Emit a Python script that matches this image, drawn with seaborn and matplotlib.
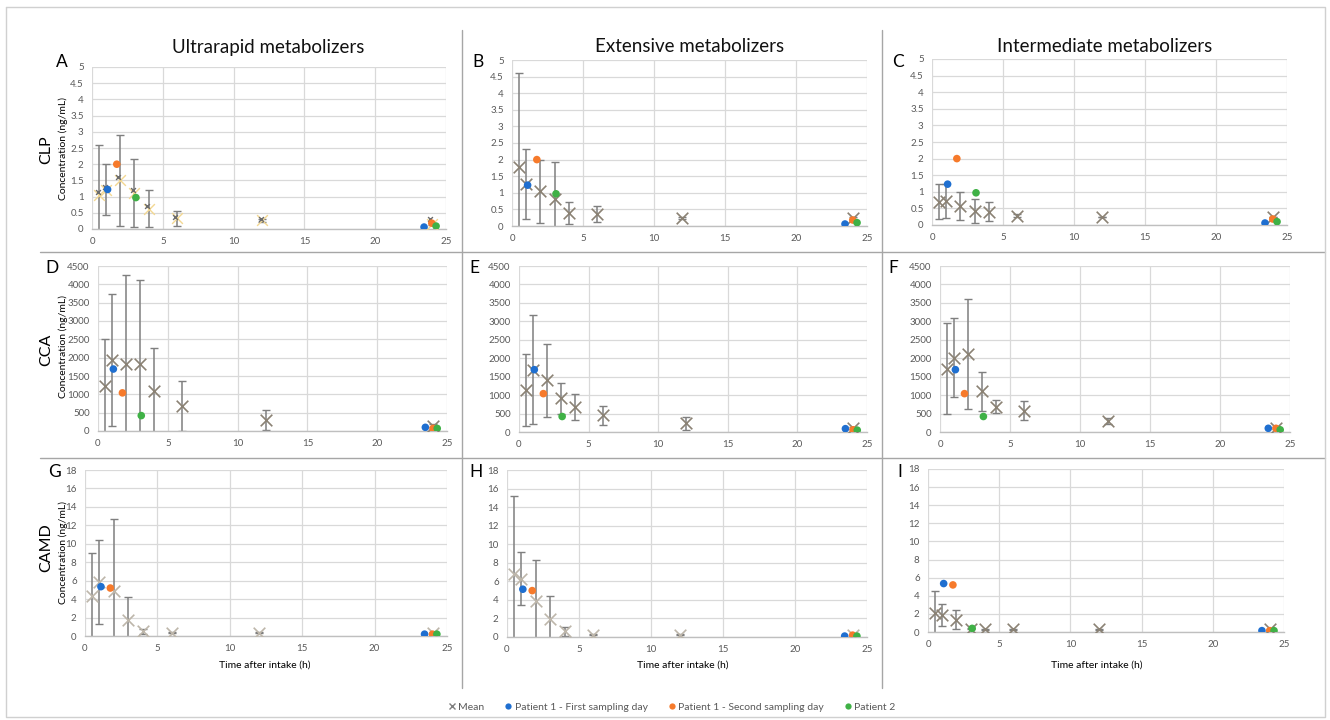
import numpy as np
import pandas as pd
import matplotlib
matplotlib.use("Agg")
import matplotlib.pyplot as plt
import seaborn as sns
from matplotlib.lines import Line2D
from matplotlib.ticker import FuncFormatter, MultipleLocator

sns.set_theme(style="white")
plt.rcParams['font.family'] = ['Lato', 'DejaVu Sans']

# ---------------- data ----------------
times = [0.5, 1, 2, 3, 4, 6, 12, 24]
p1d1_t = [1.1, 23.45]
p1d2_t = [1.75, 24.0]
p2_t = [3.1, 24.3]

columns = ["Ultrarapid metabolizers", "Extensive metabolizers", "Intermediate metabolizers"]
rows = ["CLP", "CCA", "CAMD"]
letters = ["A", "B", "C", "D", "E", "F", "G", "H", "I"]
xlabel = "Time after intake (h)"
ylabel = "Concentration (ng/mL)"
legend_labels = ["Mean", "Patient 1 - First sampling day", "Patient 1 - Second sampling day", "Patient 2"]

# CLP
clp_ur_mean = [1.05, 1.21, 1.5, 1.1, 0.63, 0.33, 0.27, 0.15]
clp_ur_sd = [1.55, 0.79, 1.4, 1.05, 0.57, 0.24, 0.05, 0.04]
clp_ur_alt_t = [0.45, 0.95, 1.85, 2.9, 3.9, 5.85, 11.9, 23.85]
clp_ur_alt = [1.15, 1.3, 1.6, 1.2, 0.72, 0.38, 0.3, 0.3]
clp_ur_p1d1 = [1.22, 0.06]
clp_ur_p1d2 = [2.0, 0.18]
clp_ur_p2 = [0.97, 0.09]

clp_em_mean = [1.78, 1.27, 1.05, 0.8, 0.4, 0.36, 0.25, 0.25]
clp_em_sd = [2.82, 1.05, 0.95, 1.13, 0.33, 0.24, 0.03, 0.03]
clp_em_p1d1 = [1.23, 0.06]
clp_em_p1d2 = [2.0, 0.18]
clp_em_p2 = [0.97, 0.1]

clp_im_mean = [0.7, 0.72, 0.57, 0.42, 0.4, 0.28, 0.24, 0.25]
clp_im_sd = [0.53, 0.5, 0.42, 0.35, 0.29, 0.04, 0.0, 0.0]
clp_im_p1d1 = [1.23, 0.06]
clp_im_p1d2 = [2.0, 0.18]
clp_im_p2 = [0.97, 0.1]

# CCA
cca_ur_mean = [1230, 1940, 1820, 1820, 1100, 690, 300, 150]
cca_ur_sd = [1270, 1790, 2430, 2300, 1160, 680, 280, 30]
cca_ur_p1d1 = [1690, 100]
cca_ur_p1d2 = [1040, 70]
cca_ur_p2 = [420, 70]

cca_em_mean = [1140, 1690, 1400, 910, 680, 455, 240, 100]
cca_em_sd = [980, 1470, 985, 430, 355, 255, 180, 30]
cca_em_p1d1 = [1690, 90]
cca_em_p1d2 = [1040, 60]
cca_em_p2 = [420, 50]

cca_im_mean = [1720, 2010, 2110, 1100, 685, 575, 300, 100]
cca_im_sd = [1240, 1070, 1500, 520, 175, 255, 80, 30]
cca_im_p1d1 = [1690, 100]
cca_im_p1d2 = [1040, 100]
cca_im_p2 = [420, 60]

# CAMD
camd_ur_mean = [4.3, 5.85, 4.9, 1.7, 0.5, 0.35, 0.35, 0.35]
camd_ur_sd = [4.75, 4.6, 7.8, 2.5, 0.3, 0.05, 0.05, 0.05]
camd_ur_p1d1 = [5.35, 0.2]
camd_ur_p1d2 = [5.2, 0.2]
camd_ur_p2 = [np.nan, 0.2]

camd_em_mean = [6.75, 6.3, 3.9, 1.9, 0.6, 0.25, 0.25, 0.2]
camd_em_sd = [8.45, 2.9, 4.4, 2.5, 0.45, 0.05, 0.05, 0.05]
camd_em_p1d1 = [5.15, 0.1]
camd_em_p1d2 = [5.0, 0.2]
camd_em_p2 = [np.nan, 0.1]

camd_im_mean = [2.05, 1.85, 1.375, 0.35, 0.3, 0.3, 0.3, 0.3]
camd_im_sd = [2.45, 1.2, 1.0, 0.05, 0.05, 0.05, 0.05, 0.05]
camd_im_p1d1 = [5.35, 0.15]
camd_im_p1d2 = [5.2, 0.15]
camd_im_p2 = [0.4, 0.15]

# ---------------- styling ----------------
C_BLUE = "#1f6fd0"
C_ORANGE = "#f67a2b"
C_GREEN = "#3fb146"
C_MEAN = "#8b8274"
C_MEAN_LIGHT = "#bdb6aa"
C_GOLD = "#f3d892"
C_ERR = "#7f7f7f"
C_GRID = "#d9d9d9"
C_TICK = "#595959"

W, H = 1330, 720
fig = plt.figure(figsize=(W / 100, H / 100), dpi=100)


def fx(x):
    return x / W


def fy(y):
    return 1 - y / H


# panel boxes in pixels: left, top, right, bottom
boxes = [
    (92, 67, 446, 229), (512, 60, 867, 226), (932, 59, 1287, 225),
    (98, 266, 447, 431), (519, 266, 867, 432), (940, 266, 1290, 432),
    (85, 470, 447, 636), (507, 470, 867, 637), (928, 469, 1284, 632),
]

panels = [
    (clp_ur_mean, clp_ur_sd, clp_ur_p1d1, clp_ur_p1d2, clp_ur_p2),
    (clp_em_mean, clp_em_sd, clp_em_p1d1, clp_em_p1d2, clp_em_p2),
    (clp_im_mean, clp_im_sd, clp_im_p1d1, clp_im_p1d2, clp_im_p2),
    (cca_ur_mean, cca_ur_sd, cca_ur_p1d1, cca_ur_p1d2, cca_ur_p2),
    (cca_em_mean, cca_em_sd, cca_em_p1d1, cca_em_p1d2, cca_em_p2),
    (cca_im_mean, cca_im_sd, cca_im_p1d1, cca_im_p1d2, cca_im_p2),
    (camd_ur_mean, camd_ur_sd, camd_ur_p1d1, camd_ur_p1d2, camd_ur_p2),
    (camd_em_mean, camd_em_sd, camd_em_p1d1, camd_em_p1d2, camd_em_p2),
    (camd_im_mean, camd_im_sd, camd_im_p1d1, camd_im_p1d2, camd_im_p2),
]

ylims = [(5, 0.5), (4500, 500), (18, 2)]
fmt = FuncFormatter(lambda v, p: f"{v:g}")

for i, (box, data) in enumerate(zip(boxes, panels)):
    l, t, r, b = box
    ax = fig.add_axes([fx(l), fy(b), fx(r) - fx(l), (b - t) / H])
    mean, sd, d1, d2, d3 = data
    row = i // 3
    ymax, ystep = ylims[row]

    ax.errorbar(times, mean, yerr=sd, fmt="none", ecolor=C_ERR, elinewidth=1.1,
                capsize=3, capthick=1.0, zorder=2)

    if i == 0:
        sns.scatterplot(x=times, y=mean, ax=ax, marker="x", s=60, color=C_GOLD,
                        linewidth=1.0, zorder=3, legend=False)
        sns.scatterplot(x=clp_ur_alt_t, y=clp_ur_alt, ax=ax, marker="x", s=12,
                        color="#6b6b6b", linewidth=1.0, zorder=4, legend=False)
    else:
        mc = C_MEAN_LIGHT if i in (6, 7) else C_MEAN
        sns.scatterplot(x=times, y=mean, ax=ax, marker="x", s=70, color=mc,
                        linewidth=1.2, zorder=3, legend=False)

    for tx, vals, col in [(p1d1_t, d1, C_BLUE), (p1d2_t, d2, C_ORANGE), (p2_t, d3, C_GREEN)]:
        dfp = pd.DataFrame({"t": tx, "v": vals}).dropna()
        sns.scatterplot(data=dfp, x="t", y="v", ax=ax, color=col, s=30,
                        edgecolor="none", zorder=5, legend=False)

    ax.set_xlim(0, 25)
    ax.set_ylim(0, ymax)
    ax.xaxis.set_major_locator(MultipleLocator(5))
    ax.yaxis.set_major_locator(MultipleLocator(ystep))
    ax.xaxis.set_major_formatter(fmt)
    ax.yaxis.set_major_formatter(fmt)
    ax.grid(True, color=C_GRID, linewidth=0.9)
    ax.set_axisbelow(True)
    for s in ("top", "right", "left"):
        ax.spines[s].set_visible(False)
    ax.spines["bottom"].set_color("#bfbfbf")
    ax.spines["bottom"].set_linewidth(1.0)
    ax.tick_params(length=0, labelsize=7, labelcolor=C_TICK, pad=6)
    ax.set_xlabel("")
    ax.set_ylabel("")

# column titles
for cx, title in zip([268, 690, 1105], columns):
    fig.text(fx(cx), fy(47), title, ha="center", va="center", fontsize=13.5, color="#111111")

# panel letters
letter_pos = [(62, 62), (478, 62), (898, 62), (52, 268), (474, 268), (893, 268),
              (54, 472), (476, 472), (900, 472)]
for (lx, ly), let in zip(letter_pos, letters):
    fig.text(fx(lx), fy(ly), let, ha="center", va="center", fontsize=12.5, color="#000000")

# row labels
for cy, cy2, name in [(150, 148, rows[0]), (350, 346, rows[1]), (548, 553, rows[2])]:
    fig.text(fx(46), fy(cy), name, rotation=90, ha="center", va="center", fontsize=11.5, color="#000000")
    fig.text(fx(63), fy(cy2), ylabel, rotation=90, ha="center", va="center", fontsize=7.5, color="#000000")

# x labels
for cx in [265, 683, 1097]:
    fig.text(fx(cx), fy(665), xlabel, ha="center", va="center", fontsize=7.5, color="#000000")

# dividers
line_kw = dict(transform=fig.transFigure, color="#a6a6a6", linewidth=1.0)
fig.add_artist(Line2D([fx(462), fx(462)], [fy(30), fy(688)], **line_kw))
fig.add_artist(Line2D([fx(882), fx(882)], [fy(30), fy(688)], **line_kw))
fig.add_artist(Line2D([fx(40), fx(1325)], [fy(252), fy(252)], **line_kw))
fig.add_artist(Line2D([fx(40), fx(1325)], [fy(458), fy(458)], **line_kw))
# outer border
border_kw = dict(transform=fig.transFigure, color="#d0d0d0", linewidth=1.0)
fig.add_artist(Line2D([fx(6), fx(1325), fx(1325), fx(6), fx(6)],
                      [fy(7), fy(7), fy(717), fy(717), fy(7)], **border_kw))

# legend
handles = [
    Line2D([], [], marker="x", linestyle="none", color="#7f7f7f", markersize=5, markeredgewidth=1.0),
    Line2D([], [], marker="o", linestyle="none", color=C_BLUE, markersize=4.5, markeredgewidth=0),
    Line2D([], [], marker="o", linestyle="none", color=C_ORANGE, markersize=4.5, markeredgewidth=0),
    Line2D([], [], marker="o", linestyle="none", color=C_GREEN, markersize=4.5, markeredgewidth=0),
]
leg = fig.legend(handles, legend_labels, loc="center", bbox_to_anchor=(fx(671), fy(707)),
                 ncol=4, frameon=False, fontsize=7.5, handletextpad=0.1,
                 columnspacing=1.8, handlelength=1.0)
for txt in leg.get_texts():
    txt.set_color(C_TICK)

fig.savefig("out.png", dpi=100)
